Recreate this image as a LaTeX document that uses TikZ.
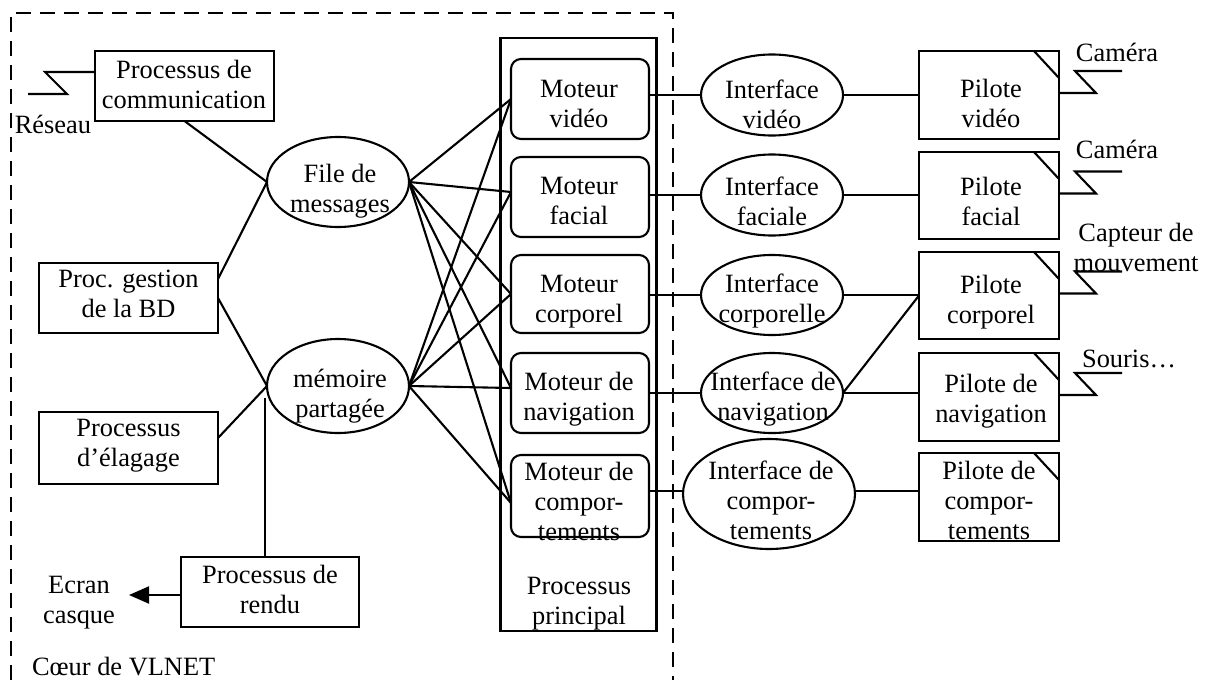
\documentclass[tikz,border=0pt]{standalone}
\usepackage{fontspec}
\setmainfont{Liberation Serif}
\usetikzlibrary{arrows.meta,shapes.geometric}
\begin{document}
\begin{tikzpicture}[x=1pt,y=-1pt,
  every node/.style={font=\fontsize{26.4pt}{30pt}\selectfont},
  ln/.style={line width=2.1pt},
  procbox/.style={draw,ln,rectangle,inner sep=0pt,outer sep=0pt},
  engine/.style={procbox,rounded corners=10pt,minimum width=138pt},
  oval/.style={draw,ln,ellipse,inner sep=0pt,outer sep=0pt},
  driver/.style={procbox,minimum width=140pt,minimum height=88pt},
  txt/.style={align=center,inner sep=0pt,outer sep=0pt},
  wire/.style={ln},
  frame/.style={line width=2.2pt,dash pattern=on 15pt off 9pt},
]
\fill[white] (0,0) rectangle (1210,680);
\useasboundingbox (0,0) rectangle (1210,680);

% core boundary (open at the bottom)
\draw[frame] (11,680) -- (11,13) -- (673,13) -- (673,680);

% ---- processes of the core ----
\node[procbox,minimum width=179pt,minimum height=70pt] (pc) at (184.5,86) {};
\node[procbox,minimum width=179pt,minimum height=70pt] (pg) at (128.5,298) {};
\node[procbox,minimum width=179pt,minimum height=72pt] (pe) at (128.5,448) {};
\node[procbox,minimum width=178pt,minimum height=70pt] (pr) at (270,592) {};
\node[oval,minimum width=142pt,minimum height=90pt] (fm) at (338,182) {};
\node[oval,minimum width=142pt,minimum height=94pt] (mp) at (338,386) {};

\node[txt] (t-pc) at (184,84) {Processus de\\communication};
\node[txt] (t-res) at (53,124) {Réseau};
\node[txt] (t-pg) at (128.5,294) {Proc. gestion\\de la BD};
\node[txt] (t-pe) at (128.5,446) {Processus\\d’élagage};
\node[txt] (t-pr) at (270,589) {Processus de\\rendu};
\node[txt] (t-ec) at (79,603) {Ecran\\casque};
\node[txt,anchor=west] (t-core) at (32,667) {Cœur de VLNET};
\node[txt] (t-fm) at (340,191) {File de\\messages};
\node[txt] (t-mp) at (340,396) {mémoire\\partagée};

% ---- main process and its engines ----
\node[procbox,minimum width=156pt,minimum height=593pt] (pp) at (578.5,334.5) {};
\node[txt] (t-pp) at (579,604) {Processus\\principal};
\node[engine,minimum height=80pt] (mv) at (580,99) {};
\node[engine,minimum height=80pt] (mf) at (580,197) {};
\node[engine,minimum height=78pt] (mco) at (580,294) {};
\node[engine,minimum height=80pt] (mn) at (580,393) {};
\node[engine,minimum height=82pt] (mcm) at (580,496) {};
\node[txt] (t-mv) at (579,104) {Moteur\\vidéo};
\node[txt] (t-mf) at (579,201) {Moteur\\facial};
\node[txt] (t-mco) at (579,302) {Moteur\\corporel};
\node[txt] (t-mn) at (579,399) {Moteur de\\navigation};
\node[txt] (t-mcm) at (579,501) {Moteur de\\compor-\\tements};

% ---- interfaces ----
\node[oval,minimum width=142pt,minimum height=81pt] (iv) at (772,95) {};
\node[oval,minimum width=142pt,minimum height=81pt] (if) at (772,195) {};
\node[oval,minimum width=142pt,minimum height=80pt] (ic) at (772,295) {};
\node[oval,minimum width=142pt,minimum height=80pt] (in) at (772,393) {};
\node[oval,minimum width=172pt,minimum height=110pt] (ico) at (769,494) {};
\node[txt] (t-iv) at (772,104) {Interface\\vidéo};
\node[txt] (t-if) at (772,201) {Interface\\faciale};
\node[txt] (t-ic) at (772,301) {Interface\\corporelle};
\node[txt] (t-in) at (773,399) {Interface de\\navigation};
\node[txt] (t-ico) at (771,500) {Interface de\\compor-\\tements};

% ---- drivers ----
\node[driver] (pv) at (989,95) {};
\node[driver,minimum height=87pt] (pf) at (989,195.5) {};
\node[driver,minimum height=87pt] (pco) at (989,295.5) {};
\node[driver] (pn) at (989,397) {};
\node[driver] (pcm) at (989,497) {};
\node[txt] (t-pv) at (991,103) {Pilote\\vidéo};
\node[txt] (t-pf) at (991,201) {Pilote\\facial};
\node[txt] (t-pco) at (991,302) {Pilote\\corporel};
\node[txt] (t-pn) at (991,401) {Pilote de\\navigation};
\node[txt] (t-pcm) at (989,500) {Pilote de\\compor-\\tements};
\foreach \n in {pv,pf,pco,pn,pcm}
  \draw[ln] ([xshift=-25pt]\n.north east) -- ([yshift=-27pt]\n.north east);

% ---- devices ----
\node[txt] (t-cam1) at (1117,52) {Caméra};
\node[txt] (t-cam2) at (1117,149) {Caméra};
\node[txt] (t-capt) at (1136,247) {Capteur de\\mouvement};
\node[txt] (t-sour) at (1129,359) {Souris…};
\foreach \n in {pv,pf,pco,pn}
  \draw[wire] ([yshift=2pt]\n.east) -- ++(37,0) -- ++(-21,-22) -- ++(47,0);
\draw[wire] ([yshift=14pt]pc.west) -- ++(-50,0) -- ++(22,22) -- ++(-39,0);

% ---- connectors in the core ----
\draw[wire] (pc.south) -- (fm.west);
\draw[wire] ([yshift=19pt]pg.east) -- (fm.west);
\draw[wire] (pg.east) -- (mp.west);
\draw[wire] ([yshift=10pt]pe.east) -- (mp.west);
\coordinate (mpfoot) at ([xshift=-2pt,yshift=-12pt]mp.west);
\draw[wire] (mpfoot) -- (mpfoot |- pr.north);
\coordinate (screen) at (129,595);
\draw[wire,-{Triangle[length=20pt,width=17pt]}] ([yshift=-3pt]pr.west) -- (screen);

% queues and shared memory to every engine
\foreach \s in {fm,mp} {
  \draw[wire] (\s.east) -- (mv.west);
  \draw[wire] (\s.east) -- ([yshift=5pt]mf.west);
  \draw[wire] (\s.east) -- (mco.west);
  \draw[wire] (\s.east) -- ([yshift=5pt]mn.west);
  \draw[wire] (\s.east) -- ([yshift=-7pt]mcm.west);
}

% engines to interfaces to drivers (horizontal links)
\draw[wire] (iv.west -| mv.east) -- (iv.west);
\draw[wire] (if.west -| mf.east) -- (if.west);
\draw[wire] (ic.west -| mco.east) -- (ic.west);
\draw[wire] (in.west -| mn.east) -- (in.west);
\draw[wire] ([yshift=3pt]ico.west -| mcm.east) -- ([yshift=3pt]ico.west);
\draw[wire] (iv.east) -- (iv.east -| pv.west);
\draw[wire] (if.east) -- (if.east -| pf.west);
\draw[wire] (ic.east) -- (ic.east -| pco.west);
\draw[wire] (in.east) -- (in.east -| pn.west);
\draw[wire] (in.east) -- (pco.west);
\draw[wire] ([yshift=3pt]ico.east) -- ([yshift=3pt]ico.east -| pcm.west);
\end{tikzpicture}
\end{document}
